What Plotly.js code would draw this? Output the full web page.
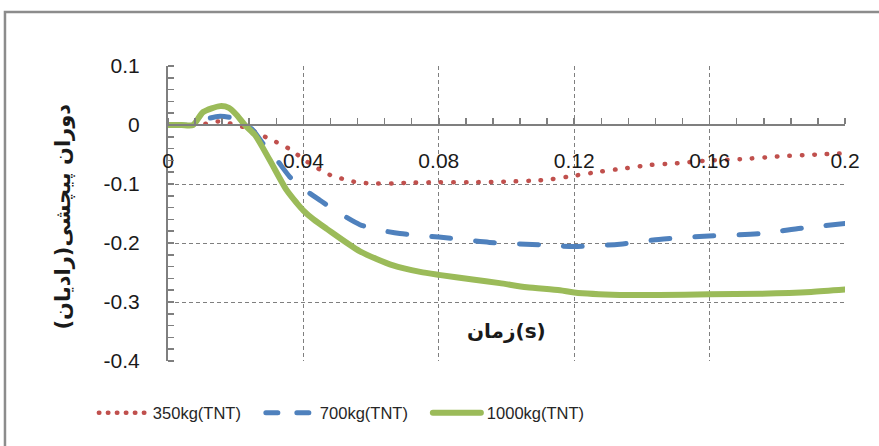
<!DOCTYPE html>
<html>
<head>
<meta charset="utf-8">
<script src="https://cdn.plot.ly/plotly-3.0.1.min.js"></script>
<style>
  html, body { margin: 0; padding: 0; background: #fff; }
  #chart { width: 879px; height: 446px; }
  .js-line { stroke-linecap: round; }
</style>
</head>
<body>
<div id="chart"></div>
<script>
// ---- data ----
const seriesNames = ["350kg(TNT)", "700kg(TNT)", "1000kg(TNT)"];

const t350 = [0, 0.004, 0.007, 0.011, 0.0145, 0.018, 0.022, 0.0257, 0.029, 0.032, 0.036, 0.041, 0.045, 0.048, 0.052, 0.0557, 0.060, 0.0665, 0.0705, 0.080, 0.089, 0.100, 0.109, 0.113, 0.120, 0.1276, 0.1355, 0.142, 0.150, 0.160, 0.169, 0.181, 0.192, 0.200];
const y350 = [0, 0, 0, 0.002, 0.006, 0.003, -0.003, -0.011, -0.021, -0.029, -0.041, -0.062, -0.076, -0.085, -0.092, -0.097, -0.099, -0.099, -0.098, -0.097, -0.097, -0.096, -0.094, -0.092, -0.086, -0.079, -0.073, -0.068, -0.065, -0.060, -0.058, -0.053, -0.050, -0.048];

const t700 = [0, 0.004, 0.008, 0.012, 0.0154, 0.019, 0.022, 0.025, 0.028, 0.032, 0.036, 0.040, 0.045, 0.050, 0.0567, 0.0625, 0.0685, 0.080, 0.095, 0.110, 0.120, 0.1335, 0.145, 0.157, 0.175, 0.187, 0.200];
const y700 = [0, 0, 0, 0.011, 0.015, 0.012, 0.004, -0.008, -0.031, -0.058, -0.088, -0.108, -0.128, -0.147, -0.169, -0.178, -0.184, -0.190, -0.199, -0.203, -0.206, -0.202, -0.194, -0.189, -0.184, -0.175, -0.167];

const t1000 = [0, 0.004, 0.0074, 0.0104, 0.0154, 0.018, 0.0203, 0.0227, 0.0257, 0.030, 0.035, 0.038, 0.040, 0.043, 0.0469, 0.0567, 0.0665, 0.0745, 0.080, 0.090, 0.098, 0.106, 0.1158, 0.120, 0.1335, 0.145, 0.160, 0.175, 0.190, 0.200];
const y1000 = [0, 0, 0, 0.022, 0.032, 0.029, 0.017, 0.0, -0.017, -0.059, -0.110, -0.132, -0.145, -0.160, -0.176, -0.214, -0.238, -0.249, -0.254, -0.262, -0.268, -0.275, -0.280, -0.284, -0.288, -0.288, -0.287, -0.286, -0.283, -0.279];

const xTickVals = [0, 0.04, 0.08, 0.12, 0.16, 0.2];
const xTickText = ["0", "0.04", "0.08", "0.12", "0.16", "0.2"];
const yTickVals = [0.1, 0, -0.1, -0.2, -0.3, -0.4];
const yTickText = ["0.1", "0", "-0.1", "-0.2", "-0.3", "-0.4"];

const xTitle = "زمان(s)";
const yTitle = "\u200Fدوران پیچشی(رادیان)\u200F";

// ---- chart ----
const gray = "#7f7f7f";
const clear = "rgba(0,0,0,0)";
const traces = [
  { x: t350, y: y350, name: seriesNames[0], mode: "lines",
    line: { color: "#C0504D", width: 4.5, dash: "0.5px,12px", shape: "spline", smoothing: 0.7 } },
  { x: t700, y: y700, name: seriesNames[1], mode: "lines",
    line: { color: "#4F81BD", width: 5, dash: "19px,25px", shape: "spline", smoothing: 0.7 } },
  { x: t1000, y: y1000, name: seriesNames[2], mode: "lines",
    line: { color: "#9BBB59", width: 6, shape: "spline", smoothing: 0.7 } }
];

const layout = {
  width: 879, height: 446,
  margin: { l: 168, r: 34, t: 66, b: 85 },
  paper_bgcolor: "#fff", plot_bgcolor: "#fff",
  font: { family: "Liberation Sans, Arial, sans-serif", color: "#262626" },
  showlegend: true,
  legend: {
    orientation: "h", x: -0.111, xanchor: "left", y: -0.176, yanchor: "middle",
    font: { size: 16.5, family: "Liberation Sans, Arial, sans-serif", color: "#262626" },
    itemwidth: 50, entrywidth: 102, bgcolor: "rgba(0,0,0,0)"
  },
  xaxis: {
    range: [0, 0.2], anchor: "free", position: 0.8,
    tickmode: "array", tickvals: xTickVals, ticktext: xTickText,
    ticks: "outside", ticklen: 17, tickwidth: 1, tickcolor: clear,
    tickfont: { size: 21, family: "Liberation Sans, Arial, sans-serif", color: "#1a1a1a" },
    minor: { dtick: 0.008, tick0: 0, ticks: "inside", ticklen: 6, tickwidth: 1.5, tickcolor: gray },
    showline: true, linecolor: gray, linewidth: 2,
    showgrid: true, gridcolor: gray, gridwidth: 1, griddash: "4px,3px",
    zeroline: false
  },
  yaxis: {
    range: [-0.4, 0.1],
    tickmode: "array", tickvals: yTickVals, ticktext: yTickText,
    ticks: "outside", ticklen: 22, tickwidth: 1, tickcolor: clear,
    tickfont: { size: 21, family: "Liberation Sans, Arial, sans-serif", color: "#1a1a1a" },
    minor: { dtick: 0.02, tick0: 0, ticks: "inside", ticklen: 6, tickwidth: 1.5, tickcolor: gray },
    showline: true, linecolor: gray, linewidth: 2,
    showgrid: true, gridcolor: gray, gridwidth: 1, griddash: "4px,3px",
    zeroline: false
  },
  annotations: [
    { text: "<b>" + xTitle + "</b>", xref: "paper", yref: "paper", x: 0.5, y: 0.102,
      xanchor: "center", yanchor: "middle", showarrow: false,
      font: { family: "DejaVu Sans, sans-serif", size: 20, color: "#1a1a1a" } },
    { text: "<b>" + yTitle + "</b>", xref: "paper", yref: "paper", x: -0.155, y: 0.49,
      xanchor: "center", yanchor: "middle", showarrow: false, textangle: -90,
      font: { family: "DejaVu Sans, sans-serif", size: 21, color: "#1a1a1a" } }
  ],
  shapes: [
    { type: "rect", xref: "paper", yref: "paper", x0: -0.2408, x1: 1.2, y0: -0.5, y1: 1.183,
      line: { color: "#8c8c8c", width: 2.5 }, fillcolor: "rgba(0,0,0,0)", layer: "below" }
  ]
};

const legendDash = ["0.5px,8.5px", "12px,19px", null];

Plotly.newPlot("chart", traces, layout, { staticPlot: true, displayModeBar: false }).then(function (gd) {
  gd.querySelectorAll(".legend .traces").forEach(function (g, i) {
    g.querySelectorAll(".legendlines path").forEach(function (p) {
      p.setAttribute("d", "M6,0h48");
      if (legendDash[i]) p.style.strokeDasharray = legendDash[i];
    });
  });
});
</script>
</body>
</html>
